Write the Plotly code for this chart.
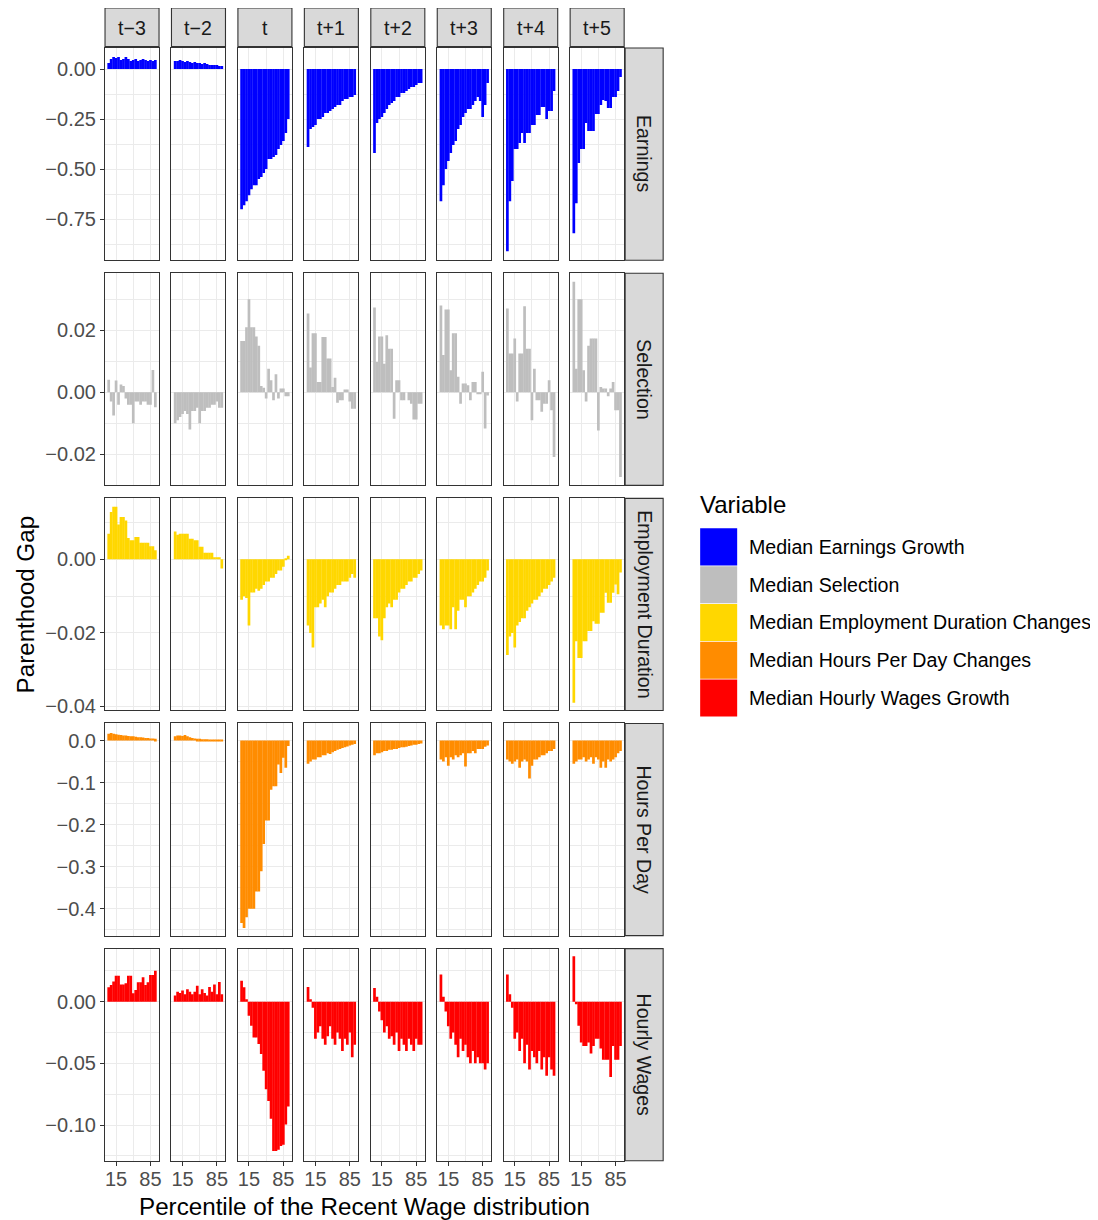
import plotly.graph_objects as go

# ---------------- data ----------------
periods = ["t\u22123", "t\u22122", "t", "t+1", "t+2", "t+3", "t+4", "t+5"]
row_labels = ["Earnings", "Selection", "Employment Duration", "Hours Per Day", "Hourly Wages"]
legend_labels = ["Median Earnings Growth", "Median Selection",
                 "Median Employment Duration Changes", "Median Hours Per Day Changes",
                 "Median Hourly Wages Growth"]
colors = ["#0000FF", "#BEBEBE", "#FFD700", "#FF8C00", "#FF0000"]
percentiles = [0, 5, 10, 15, 20, 25, 30, 35, 40, 45, 50, 55, 60, 65, 70, 75, 80, 85, 90, 95]

earnings = [
    [0.03, 0.05, 0.06, 0.055, 0.06, 0.045, 0.05, 0.06, 0.05, 0.04, 0.045, 0.05, 0.04, 0.045, 0.05, 0.045, 0.04, 0.045, 0.04, 0.045],
    [0.04, 0.04, 0.045, 0.04, 0.035, 0.04, 0.035, 0.03, 0.035, 0.03, 0.03, 0.025, 0.03, 0.025, 0.02, 0.02, 0.02, 0.02, 0.015, 0.015],
    [-0.70, -0.68, -0.66, -0.63, -0.60, -0.58, -0.58, -0.55, -0.54, -0.52, -0.50, -0.45, -0.45, -0.44, -0.43, -0.40, -0.38, -0.36, -0.32, -0.25],
    [-0.39, -0.30, -0.29, -0.28, -0.25, -0.25, -0.24, -0.22, -0.22, -0.21, -0.20, -0.19, -0.18, -0.18, -0.16, -0.15, -0.15, -0.14, -0.14, -0.13],
    [-0.42, -0.27, -0.25, -0.24, -0.22, -0.20, -0.18, -0.17, -0.16, -0.14, -0.14, -0.12, -0.12, -0.11, -0.10, -0.09, -0.09, -0.08, -0.07, -0.07],
    [-0.66, -0.58, -0.50, -0.46, -0.42, -0.38, -0.36, -0.30, -0.28, -0.24, -0.22, -0.20, -0.20, -0.18, -0.16, -0.14, -0.16, -0.24, -0.18, -0.07],
    [-0.91, -0.66, -0.56, -0.40, -0.40, -0.37, -0.32, -0.37, -0.32, -0.32, -0.28, -0.28, -0.23, -0.23, -0.19, -0.19, -0.25, -0.21, -0.21, -0.11],
    [-0.82, -0.67, -0.47, -0.40, -0.40, -0.27, -0.31, -0.31, -0.31, -0.225, -0.225, -0.18, -0.155, -0.16, -0.195, -0.195, -0.14, -0.14, -0.11, -0.04],
]

selection = [
    [0.004, -0.003, -0.0075, 0.0038, -0.004, 0.0025, 0.002, -0.002, -0.004, -0.004, -0.010, -0.003, -0.003, -0.004, -0.003, -0.003, -0.004, -0.004, 0.0072, -0.0048],
    [-0.010, -0.009, -0.008, -0.007, -0.006, -0.007, -0.012, -0.006, -0.006, -0.005, -0.010, -0.006, -0.006, -0.005, -0.005, -0.004, -0.004, -0.003, -0.005, -0.005],
    [0.0165, 0.0165, 0.021, 0.030, 0.021, 0.021, 0.018, 0.015, 0.002, 0.0015, -0.002, 0.0076, 0.0039, -0.0026, 0.0058, -0.002, 0.0012, 0.0012, -0.0013, -0.0013],
    [0.0254, 0.008, 0.019, 0.019, 0.0033, 0.0033, 0.0178, 0.0178, 0.0109, 0.0109, 0.0017, 0.0047, -0.0034, -0.0026, -0.0026, 0.0009, 0.0009, -0.003, -0.0053, -0.0053],
    [0.0273, 0.0098, 0.018, 0.018, 0.0092, 0.0184, 0.014, 0.014, -0.0085, 0.0039, 0.0039, -0.0026, -0.0026, 0.0, -0.0026, -0.0037, -0.0088, -0.0088, -0.0037, -0.0037],
    [0.028, 0.012, 0.0267, 0.0267, 0.0071, 0.019, 0.019, 0.005, -0.0037, 0.0028, 0.0028, 0.0023, -0.0026, 0.0033, 0.0033, -0.0004, -0.0004, 0.0066, -0.0117, -0.001],
    [0.027, 0.0125, 0.0125, 0.0173, -0.003, 0.0125, 0.0125, 0.0277, 0.014, 0.014, -0.009, 0.0076, -0.0026, -0.0026, -0.0063, -0.0037, -0.0037, 0.0039, -0.0058, -0.0209],
    [0.0356, 0.0076, 0.030, 0.030, 0.0071, -0.003, 0.015, 0.0173, 0.0173, 0.0173, -0.0123, 0.0017, 0.0012, 0.0012, -0.0013, 0.0012, 0.0033, -0.0058, -0.0058, -0.0273],
]

employment = [
    [0.007, 0.0129, 0.0143, 0.0143, 0.0095, 0.0115, 0.0115, 0.0106, 0.0058, 0.0052, 0.0052, 0.0061, 0.0061, 0.0045, 0.0045, 0.0045, 0.0045, 0.0036, 0.0036, 0.0025],
    [0.0076, 0.0067, 0.007, 0.007, 0.007, 0.007, 0.0056, 0.0056, 0.0052, 0.0052, 0.0034, 0.0034, 0.0018, 0.0018, 0.0018, 0.0018, 0.0006, 0.0006, 0.0006, -0.0025],
    [-0.011, -0.010, -0.0105, -0.018, -0.009, -0.009, -0.008, -0.0085, -0.008, -0.007, -0.006, -0.006, -0.005, -0.005, -0.004, -0.003, -0.003, -0.002, 0.0003, 0.001],
    [-0.018, -0.020, -0.024, -0.013, -0.013, -0.012, -0.011, -0.013, -0.010, -0.009, -0.009, -0.008, -0.007, -0.007, -0.006, -0.006, -0.006, -0.005, -0.004, -0.005],
    [-0.016, -0.016, -0.021, -0.022, -0.016, -0.013, -0.012, -0.013, -0.011, -0.011, -0.009, -0.008, -0.008, -0.007, -0.006, -0.006, -0.005, -0.005, -0.004, -0.003],
    [-0.018, -0.019, -0.018, -0.018, -0.019, -0.013, -0.019, -0.014, -0.011, -0.011, -0.013, -0.010, -0.010, -0.009, -0.008, -0.007, -0.006, -0.006, -0.005, -0.003],
    [-0.026, -0.021, -0.020, -0.024, -0.018, -0.017, -0.016, -0.016, -0.014, -0.013, -0.012, -0.011, -0.011, -0.010, -0.009, -0.008, -0.008, -0.007, -0.006, -0.005],
    [-0.039, -0.0223, -0.0268, -0.0268, -0.0223, -0.0223, -0.0195, -0.0195, -0.0168, -0.0175, -0.0175, -0.0145, -0.0145, -0.0091, -0.0118, -0.0118, -0.0091, -0.0068, -0.0095, -0.0036],
]

hours = [
    [0.016, 0.018, 0.016, 0.015, 0.014, 0.013, 0.012, 0.012, 0.011, 0.010, 0.010, 0.009, 0.008, 0.008, 0.007, 0.006, 0.006, 0.005, 0.005, 0.004],
    [0.010, 0.012, 0.012, 0.011, 0.013, 0.010, 0.008, 0.006, 0.005, 0.004, 0.004, 0.003, 0.003, 0.003, 0.002, 0.002, 0.002, 0.002, 0.002, 0.002],
    [-0.434, -0.446, -0.42, -0.40, -0.40, -0.40, -0.359, -0.359, -0.311, -0.246, -0.19, -0.19, -0.117, -0.109, -0.109, -0.057, -0.077, -0.041, -0.065, -0.013],
    [-0.055, -0.050, -0.045, -0.045, -0.040, -0.040, -0.035, -0.035, -0.030, -0.032, -0.028, -0.025, -0.022, -0.020, -0.018, -0.016, -0.014, -0.012, -0.010, -0.008],
    [-0.035, -0.030, -0.030, -0.028, -0.025, -0.025, -0.022, -0.022, -0.020, -0.020, -0.018, -0.016, -0.016, -0.015, -0.013, -0.012, -0.010, -0.010, -0.008, -0.007],
    [-0.045, -0.050, -0.040, -0.060, -0.040, -0.045, -0.035, -0.040, -0.035, -0.030, -0.062, -0.030, -0.030, -0.025, -0.030, -0.020, -0.020, -0.020, -0.015, -0.012],
    [-0.045, -0.050, -0.055, -0.050, -0.045, -0.065, -0.050, -0.045, -0.050, -0.090, -0.060, -0.045, -0.045, -0.040, -0.035, -0.035, -0.030, -0.025, -0.025, -0.020],
    [-0.055, -0.050, -0.045, -0.045, -0.040, -0.050, -0.045, -0.040, -0.055, -0.040, -0.045, -0.065, -0.050, -0.065, -0.045, -0.050, -0.045, -0.040, -0.030, -0.025],
]

hourly_wages = [
    [0.0117, 0.0135, 0.0163, 0.0211, 0.0211, 0.014, 0.014, 0.015, 0.021, 0.021, 0.0068, 0.0095, 0.0157, 0.0157, 0.0198, 0.0135, 0.0157, 0.0217, 0.0217, 0.025],
    [0.005, 0.008, 0.007, 0.009, 0.006, 0.010, 0.008, 0.006, 0.008, 0.013, 0.006, 0.010, 0.007, 0.005, 0.012, 0.008, 0.014, 0.006, 0.016, 0.006],
    [0.017, 0.0117, 0.002, -0.0114, -0.0195, -0.029, -0.029, -0.0344, -0.0425, -0.056, -0.071, -0.0805, -0.095, -0.121, -0.121, -0.12, -0.117, -0.116, -0.0995, -0.085],
    [0.012, 0.002, -0.005, -0.030, -0.025, -0.020, -0.030, -0.035, -0.028, -0.020, -0.030, -0.035, -0.025, -0.030, -0.040, -0.030, -0.035, -0.025, -0.045, -0.035],
    [0.011, 0.004, -0.008, -0.015, -0.025, -0.020, -0.030, -0.028, -0.035, -0.025, -0.040, -0.030, -0.035, -0.040, -0.030, -0.035, -0.040, -0.030, -0.035, -0.035],
    [0.022, 0.004, -0.008, -0.020, -0.030, -0.025, -0.035, -0.045, -0.030, -0.040, -0.035, -0.045, -0.050, -0.040, -0.050, -0.045, -0.050, -0.050, -0.055, -0.050],
    [0.022, 0.006, -0.005, -0.030, -0.025, -0.040, -0.030, -0.050, -0.035, -0.055, -0.040, -0.045, -0.050, -0.040, -0.055, -0.045, -0.060, -0.045, -0.055, -0.060],
    [0.0369, -0.002, -0.0195, -0.033, -0.036, -0.036, -0.033, -0.042, -0.036, -0.030, -0.030, -0.038, -0.047, -0.047, -0.047, -0.061, -0.036, -0.047, -0.047, -0.036],
]

variables = [earnings, selection, employment, hours, hourly_wages]

y_ranges = [[-0.955, 0.105], [-0.030, 0.0384], [-0.0411, 0.0166], [-0.464, 0.0405], [-0.129, 0.043]]
y_ticks = [[-0.75, -0.5, -0.25, 0.0], [-0.02, 0.0, 0.02], [-0.04, -0.02, 0.0],
           [-0.4, -0.3, -0.2, -0.1, 0.0], [-0.10, -0.05, 0.0]]
y_ticktext = [["\u22120.75", "\u22120.50", "\u22120.25", "0.00"], ["\u22120.02", "0.00", "0.02"],
              ["\u22120.04", "\u22120.02", "0.00"], ["\u22120.4", "\u22120.3", "\u22120.2", "\u22120.1", "0.0"],
              ["\u22120.10", "\u22120.05", "0.00"]]
y_minor = [[-0.875, -0.625, -0.375, -0.125], [-0.03, -0.01, 0.01, 0.03], [-0.03, -0.01, 0.01],
           [-0.45, -0.35, -0.25, -0.15, -0.05], [-0.125, -0.075, -0.025, 0.025]]
x_ticks = [15, 85]
x_minor = [50]
x_range = [-7.5, 102.5]

# ---------------- layout geometry (target screen pixels) ----------------
OFF = 8                      # page body margin
W, H = 1090, 1214
KX, KY = 1.003, 1.0065       # empirical screen-to-page correction
col_left0, col_step, panel_w = 105, 66.43, 54
row_top0, row_step, panel_h = 48, 225, 212
FONT = "Liberation Sans, Arial, Helvetica, sans-serif"
GRID = "#EBEBEB"
BORDER = "#333333"
TICK_SIZE = 20
STRIP_SIZE = 19.6
TITLE_SIZE = 24.2


def px(x):
    return (x - OFF) * KX / W


def py(y):
    return 1 - (y - OFF) * KY / H


fig = go.Figure()
layout_axes = {}
shapes = []
annotations = []

for r in range(5):
    top = row_top0 + r * row_step
    for c in range(8):
        left = col_left0 + c * col_step
        k = r * 8 + c + 1
        xa = "x" if k == 1 else f"x{k}"
        ya = "y" if k == 1 else f"y{k}"
        fig.add_trace(go.Bar(
            x=percentiles, y=variables[r][c], width=5.5,
            marker=dict(color=colors[r], line=dict(width=0)),
            xaxis=xa, yaxis=ya, showlegend=False, hoverinfo="x+y",
        ))
        bottom_row = (r == 4)
        first_col = (c == 0)
        layout_axes["xaxis" if k == 1 else f"xaxis{k}"] = dict(
            domain=[px(left), px(left + panel_w)], anchor=ya, range=x_range,
            tickvals=x_ticks, ticktext=[str(v) for v in x_ticks],
            showticklabels=bottom_row, ticks="outside" if bottom_row else "",
            ticklen=4, tickwidth=1, tickcolor=BORDER, ticklabelstandoff=-4,
            tickfont=dict(family=FONT, size=TICK_SIZE, color="#4D4D4D"),
            showgrid=True, gridcolor=GRID, gridwidth=1.1,
            minor=dict(tickvals=x_minor, showgrid=True, gridcolor=GRID, gridwidth=0.6, ticks=""),
            zeroline=False, showline=True, mirror=True, linecolor=BORDER, linewidth=1.1,
            fixedrange=True,
        )
        layout_axes["yaxis" if k == 1 else f"yaxis{k}"] = dict(
            domain=[py(top + panel_h), py(top)], anchor=xa, range=y_ranges[r],
            tickvals=y_ticks[r], ticktext=y_ticktext[r],
            showticklabels=first_col, ticks="outside" if first_col else "",
            ticklen=4, tickwidth=1, tickcolor=BORDER,
            tickfont=dict(family=FONT, size=TICK_SIZE, color="#4D4D4D"),
            showgrid=True, gridcolor=GRID, gridwidth=1.1,
            minor=dict(tickvals=y_minor[r], showgrid=True, gridcolor=GRID, gridwidth=0.6, ticks=""),
            zeroline=False, showline=True, mirror=True, linecolor=BORDER, linewidth=1.1,
            fixedrange=True,
        )

# top strips (periods)
for c, lab in enumerate(periods):
    left = col_left0 + c * col_step
    shapes.append(dict(type="rect", xref="paper", yref="paper",
                       x0=px(left), x1=px(left + panel_w), y0=py(46.5), y1=py(8),
                       fillcolor="#D9D9D9", line=dict(color=BORDER, width=1.1), layer="below"))
    annotations.append(dict(xref="paper", yref="paper", x=px(left + panel_w / 2), y=py(28),
                            text=lab, showarrow=False, xanchor="center", yanchor="middle",
                            font=dict(family=FONT, size=STRIP_SIZE, color="#1A1A1A")))

# right strips (variables)
strip_x0 = col_left0 + 7 * col_step + panel_w + 1
for r, lab in enumerate(row_labels):
    top = row_top0 + r * row_step
    shapes.append(dict(type="rect", xref="paper", yref="paper",
                       x0=px(strip_x0), x1=px(strip_x0 + 38), y0=py(top + panel_h), y1=py(top),
                       fillcolor="#D9D9D9", line=dict(color=BORDER, width=1.1), layer="below"))
    annotations.append(dict(xref="paper", yref="paper", x=px(strip_x0 + 19), y=py(top + panel_h / 2),
                            text=lab, showarrow=False, textangle=90, xanchor="center", yanchor="middle",
                            font=dict(family=FONT, size=STRIP_SIZE, color="#1A1A1A")))

# axis titles
annotations.append(dict(xref="paper", yref="paper", x=px(364.5), y=py(1206),
                        text="Percentile of the Recent Wage distribution", showarrow=False,
                        xanchor="center", yanchor="middle",
                        font=dict(family=FONT, size=TITLE_SIZE, color="#000000")))
annotations.append(dict(xref="paper", yref="paper", x=px(25), y=py(604),
                        text="Parenthood Gap", showarrow=False, textangle=-90,
                        xanchor="center", yanchor="middle",
                        font=dict(family=FONT, size=TITLE_SIZE, color="#000000")))

# legend (drawn manually to reproduce large ggplot keys)
annotations.append(dict(xref="paper", yref="paper", x=px(698), y=py(504),
                        text="Variable", showarrow=False, xanchor="left", yanchor="middle",
                        font=dict(family=FONT, size=24, color="#000000")))
key_top0, key_step, key_size = 528, 37.75, 37
for i, (lab, col) in enumerate(zip(legend_labels, colors)):
    kt = key_top0 + i * key_step
    shapes.append(dict(type="rect", xref="paper", yref="paper",
                       x0=px(700), x1=px(700 + key_size), y0=py(kt + key_size), y1=py(kt),
                       fillcolor=col, line=dict(width=0)))
    annotations.append(dict(xref="paper", yref="paper", x=px(747), y=py(kt + key_size / 2),
                            text=lab, showarrow=False, xanchor="left", yanchor="middle",
                            font=dict(family=FONT, size=19.6, color="#000000")))

fig.update_layout(
    width=W, height=H, margin=dict(l=0, r=0, t=0, b=0),
    paper_bgcolor="white", plot_bgcolor="white",
    showlegend=False, shapes=shapes, annotations=annotations,
    font=dict(family=FONT),
    **layout_axes,
)

fig.write_html("out.html")
